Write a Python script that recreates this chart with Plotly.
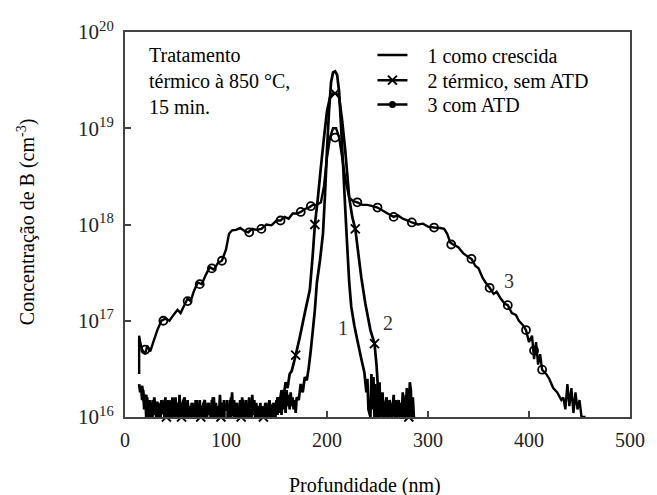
import math
import plotly.graph_objects as go

# ---------------- data ----------------
# Curve 1: como crescida (depth in nm, concentration in cm^-3)
depth_1_left = [14, 15, 16, 17, 18, 19, 20, 21, 22, 23, 24, 25, 26, 27, 28, 29, 30, 31, 32, 33,
                34, 35, 36, 37, 38, 39, 40, 41, 42, 43, 44, 45, 46, 47, 48, 49, 50, 51, 52, 53,
                54, 55, 56, 57, 58, 59, 60, 61, 62, 63, 64, 65, 66, 67, 68, 69, 70, 71, 72, 73,
                74, 75, 76, 77, 78, 79, 80, 81, 82, 83, 84, 85, 86, 87, 88, 89, 90, 91, 92, 93,
                94, 95, 96, 97, 98, 99, 100, 101, 102, 103, 104, 105, 106, 107, 108, 109, 110,
                111, 112, 113, 114, 115, 116, 117, 118, 119, 120, 121, 122, 123, 124, 125, 126,
                127, 128, 129, 130, 131, 132, 133, 134, 135, 136, 137, 138, 139, 140, 141, 142,
                143, 144, 145, 146, 147, 148, 149, 150, 151, 152, 153, 154, 155, 156, 157, 158,
                159, 160, 161, 162, 163, 164, 165, 166, 167, 168, 169, 170]
conc_1_left = [2.2e16, 1.8e16, 2.0e16, 1.5e16, 1.9e16, 1.2e16, 1.7e16, 1.0e16, 1.6e16, 1.0e16,
               1.5e16, 1.0e16, 1.4e16, 1.0e16, 1.5e16, 1.05e16, 1.3e16, 1.0e16, 1.45e16, 1.0e16,
               1.35e16, 1.0e16, 1.5e16, 1.1e16, 1.4e16, 1.0e16, 1.6e16, 1.0e16, 1.3e16, 1.0e16,
               1.4e16, 1.0e16, 1.5e16, 1.0e16, 1.35e16, 1.05e16, 1.6e16, 1.0e16, 1.4e16, 1.0e16,
               1.7e16, 1.0e16, 1.3e16, 1.0e16, 1.45e16, 1.0e16, 1.35e16, 1.05e16, 1.5e16, 1.0e16,
               1.3e16, 1.0e16, 1.4e16, 1.0e16, 1.3e16, 1.0e16, 1.5e16, 1.0e16, 1.35e16, 1.0e16,
               1.5e16, 1.0e16, 1.3e16, 1.0e16, 1.4e16, 1.0e16, 1.25e16, 1.0e16, 1.4e16, 1.05e16,
               1.3e16, 1.0e16, 1.5e16, 1.0e16, 1.6e16, 1.0e16, 1.4e16, 1.0e16, 1.3e16, 1.0e16,
               1.7e16, 1.1e16, 1.4e16, 1.0e16, 1.5e16, 1.0e16, 1.35e16, 1.0e16, 1.3e16, 1.05e16,
               1.5e16, 1.0e16, 1.8e16, 1.05e16, 1.5e16, 1.0e16, 1.4e16, 1.0e16, 1.3e16, 1.0e16,
               1.5e16, 1.0e16, 1.6e16, 1.0e16, 1.4e16, 1.0e16, 1.5e16, 1.0e16, 1.3e16, 1.0e16,
               1.45e16, 1.0e16, 1.7e16, 1.05e16, 1.5e16, 1.0e16, 1.4e16, 1.0e16, 1.3e16, 1.0e16,
               1.4e16, 1.0e16, 1.3e16, 1.0e16, 1.25e16, 1.0e16, 1.4e16, 1.0e16, 1.3e16, 1.0e16,
               1.35e16, 1.0e16, 1.3e16, 1.0e16, 1.4e16, 1.0e16, 1.5e16, 1.05e16, 1.6e16, 1.1e16,
               1.5e16, 1.05e16, 1.7e16, 1.2e16, 1.8e16, 1.1e16, 1.9e16, 1.3e16, 1.7e16, 1.2e16,
               1.8e16, 1.3e16, 1.6e16, 1.2e16, 1.5e16, 1.1e16, 1.6e16]
depth_1_peak = [172, 174, 176, 178, 180, 182, 184, 186, 188, 190, 193, 196, 198, 200, 202, 204,
                206, 208, 210, 212, 214, 216, 218, 220, 222, 224, 227, 230, 234, 237, 239, 240,
                241]
conc_1_peak = [1.5e16, 2.2e16, 1.8e16, 2.6e16, 2.4e16, 3.3e16, 5.0e16, 8.0e16, 1.3e17, 2.5e17,
               4.2e17, 8.0e17, 2.0e18, 6.0e18, 1.5e19, 3.0e19, 3.8e19, 3.9e19, 3.6e19, 2.4e19,
               1.0e19, 4.0e18, 1.5e18, 6.0e17, 2.5e17, 1.4e17, 9.0e16, 6.3e16, 4.0e16, 2.9e16,
               1.8e16, 2.5e16, 1.2e16]
depth_1_right = [243, 244, 245, 246, 247, 248, 249, 250, 251, 252, 254, 256, 258, 260, 262, 264,
                 266, 268, 270, 272, 274, 276, 278, 280, 282]
conc_1_right = [1.0e16, 2.8e16, 1.2e16, 2.6e16, 1.0e16, 2.2e16, 1.0e16, 1.9e16, 1.0e16, 1.5e16,
                1.4e16, 1.0e16, 1.3e16, 1.0e16, 1.4e16, 1.0e16, 1.2e16, 1.0e16, 1.3e16, 1.0e16,
                1.4e16, 1.0e16, 1.7e16, 1.0e16, 1.0e16]

# Curve 2: termico, sem ATD
depth_2_left = [15, 17, 19, 21, 23, 25, 27, 29, 31, 33, 35, 37, 39, 41, 43, 45, 47, 49, 51, 53,
                55, 57, 59, 61, 63, 65, 67, 69, 71, 73, 75, 77, 79, 81, 83, 85, 87, 89, 91, 93,
                95, 97, 99, 101, 103, 105, 107, 109, 111, 113, 115, 117, 119, 121, 123, 125,
                127, 129, 131, 133, 135, 137, 139, 141, 143, 145, 147, 149, 151, 153, 155, 157,
                159, 161, 163, 165, 167, 169]
conc_2_left = [1.9e16, 2.1e16, 1.4e16, 1.7e16, 1.0e16, 1.5e16, 1.0e16, 1.6e16, 1.0e16, 1.4e16,
               1.0e16, 1.5e16, 1.05e16, 1.0e16, 1.5e16, 1.0e16, 1.6e16, 1.0e16, 1.4e16, 1.0e16,
               1.0e16, 1.4e16, 1.6e16, 1.0e16, 1.3e16, 1.0e16, 1.4e16, 1.0e16, 1.5e16, 1.0e16,
               1.0e16, 1.3e16, 1.5e16, 1.0e16, 1.4e16, 1.0e16, 1.6e16, 1.0e16, 1.3e16, 1.05e16,
               1.0e16, 1.4e16, 1.0e16, 1.5e16, 1.0e16, 1.6e16, 1.05e16, 1.0e16, 1.4e16, 1.0e16,
               1.0e16, 1.5e16, 1.05e16, 1.0e16, 1.6e16, 1.0e16, 1.4e16, 1.0e16, 1.3e16, 1.05e16,
               1.0e16, 1.0e16, 1.4e16, 1.0e16, 1.5e16, 1.0e16, 1.4e16, 1.05e16,
               1.6e16, 1.4e16, 1.9e16, 1.6e16, 2.3e16, 2.0e16, 2.8e16, 3.0e16, 3.6e16, 4.4e16]
depth_2_peak = [173, 178, 183, 186, 188, 191, 194, 197, 200, 203, 206, 209, 212, 215, 218, 222,
                225, 228, 231, 234, 238, 243, 247, 249, 250]
conc_2_peak = [6.7e16, 1.2e17, 2.1e17, 5.0e17, 1.0e18, 1.9e18, 4.0e18, 8.0e18, 1.5e19, 2.1e19,
               2.3e19, 2.3e19, 2.1e19, 1.2e19, 6.0e18, 1.9e18, 1.2e18, 9.0e17, 5.0e17, 2.8e17,
               1.5e17, 8.0e16, 5.8e16, 3.5e16, 2.4e16]
depth_2_right = [251, 252, 253, 254, 255, 256, 257, 258, 259, 260, 261, 262, 263, 264, 265, 266,
                 267, 268, 269, 270, 271, 272, 273, 274, 275, 276, 277, 278, 279, 280, 281, 282,
                 283, 284, 285, 286, 287]
conc_2_right = [1.5e16, 2.3e16, 1.0e16, 1.6e16, 1.8e16, 1.0e16, 1.0e16, 1.4e16, 1.6e16, 1.0e16,
                1.0e16, 1.5e16, 1.3e16, 1.0e16, 1.2e16, 1.7e16, 1.0e16, 1.5e16, 1.0e16, 1.3e16,
                1.5e16, 1.0e16, 1.4e16, 1.0e16, 1.8e16, 1.05e16, 1.4e16, 1.0e16, 2.0e16, 1.1e16,
                1.0e16, 2.3e16, 1.9e16, 1.0e16, 1.6e16, 1.0e16, 1.0e16]
# x markers of curve 2
mark_depth_2 = [41, 56, 75, 95, 115, 137, 169, 188, 208, 228, 247, 281]
mark_conc_2 = [1.0e16, 1.0e16, 1.0e16, 1.0e16, 1.0e16, 1.0e16, 4.4e16, 1.0e18, 2.3e19,
               9.0e17, 5.8e16, 1.0e16]

# Curve 3: com ATD
depth_3 = [14, 14, 15, 17, 20, 22, 25, 28, 32, 36, 40, 44, 48, 52, 55, 58, 62, 65, 68, 72,
           76, 80, 84, 88, 92, 96, 100, 103, 106, 110, 114, 118, 122, 126, 130, 135, 140,
           145, 150, 154, 158, 162, 166, 170, 174, 178, 182, 186, 190, 194, 197, 200, 203,
           206, 209, 212, 215, 218, 222, 226, 230, 235, 240, 245, 250, 255, 260, 266, 270,
           275, 280, 284, 290, 295, 300, 306, 312, 316, 319, 322, 325, 330, 335, 340, 343,
           347, 350, 354, 357, 361, 365, 368, 372, 376, 379, 383, 387, 390, 394, 397, 400,
           403, 405, 407, 409, 411, 413, 417, 420, 424, 428, 432, 434, 436, 438, 440, 442,
           444, 446, 448, 450, 452, 454, 456]
conc_3 = [2.8e16, 7.0e16, 6.0e16, 5.0e16, 4.5e16, 5.5e16, 4.8e16, 6.0e16, 8.0e16, 1.0e17,
          1.05e17, 1.0e17, 1.15e17, 1.3e17, 1.2e17, 1.4e17, 1.7e17, 1.6e17, 2.0e17, 2.5e17,
          2.4e17, 3.0e17, 3.6e17, 3.4e17, 4.0e17, 4.2e17, 5.5e17, 8.0e17, 8.7e17, 8.8e17,
          9.2e17, 8.6e17, 8.3e17, 9.0e17, 8.8e17, 9.0e17, 1.0e18, 9.8e17, 1.1e18, 1.1e18,
          1.2e18, 1.15e18, 1.3e18, 1.3e18, 1.35e18, 1.45e18, 1.5e18, 1.6e18, 1.6e18,
          1.7e18, 2.5e18, 5.0e18, 8.0e18, 1.0e19, 1.0e19, 8.0e18, 5.0e18, 3.0e18, 1.9e18,
          1.75e18, 1.7e18, 1.6e18, 1.6e18, 1.55e18, 1.5e18, 1.4e18, 1.3e18, 1.2e18,
          1.25e18, 1.15e18, 1.1e18, 1.05e18, 1.0e18, 1.02e18, 9.5e17, 9.3e17, 9.2e17,
          9.0e17, 8.0e17, 6.5e17, 6.2e17, 5.8e17, 5.0e17, 4.6e17, 4.4e17, 3.7e17, 3.5e17,
          2.8e17, 2.5e17, 2.2e17, 1.9e17, 2.0e17, 1.7e17, 1.5e17, 1.45e17, 1.2e17, 1.15e17,
          1.0e17, 9.0e16, 8.0e16, 6.0e16, 7.0e16, 4.0e16, 6.0e16, 3.5e16, 4.5e16, 3.1e16,
          2.8e16, 2.5e16, 2.0e16, 1.8e16, 1.5e16, 1.6e16, 1.2e16, 2.2e16, 1.3e16, 2.0e16,
          1.1e16, 1.8e16, 1.2e16, 1.5e16, 1.0e16, 1.0e16, 1.0e16]
# circle markers of curve 3
mark_depth_3 = [20, 38, 62, 74, 86, 96, 123, 135, 154, 174, 184, 208, 230, 250, 266, 284,
                306, 323, 343, 361, 379, 397, 405, 413]
mark_conc_3 = [5.0e16, 1.0e17, 1.6e17, 2.4e17, 3.5e17, 4.2e17, 8.3e17, 9.0e17, 1.1e18,
               1.35e18, 1.55e18, 8.0e18, 1.7e18, 1.5e18, 1.2e18, 1.05e18, 9.3e17, 6.2e17,
               4.4e17, 2.2e17, 1.45e17, 8.0e16, 4.9e16, 3.1e16]

legend_names = ["1 como crescida", "2 térmico, sem ATD", "3 com ATD"]
curve_labels = ["1", "2", "3"]
curve_label_depth = [216, 260, 380]
curve_label_conc = [8.5e16, 9.4e16, 2.6e17]

x_ticks = [0, 100, 200, 300, 400, 500]
y_ticks = [1e16, 1e17, 1e18, 1e19, 1e20]
y_tick_text = ["10<sup>16</sup>", "10<sup>17</sup>", "10<sup>18</sup>", "10<sup>19</sup>",
               "10<sup>20</sup>"]

depth_1 = depth_1_left + depth_1_peak + depth_1_right
conc_1 = conc_1_left + conc_1_peak + conc_1_right
depth_2 = depth_2_left + depth_2_peak + depth_2_right
conc_2 = conc_2_left + conc_2_peak + conc_2_right

# ---------------- figure ----------------
FONT = "Liberation Serif, Times New Roman, serif"
LW = 2.4
LW_SIMS = 2.7
PAD = "\u00a0\u00a0\u00a0"

fig = go.Figure()

fig.add_trace(go.Scatter(x=depth_3, y=conc_3, mode="lines",
                         line=dict(color="black", width=LW, simplify=False),
                         showlegend=False))
fig.add_trace(go.Scatter(x=mark_depth_3, y=mark_conc_3, mode="markers",
                         marker=dict(symbol="circle-open", size=8, color="black",
                                     line=dict(width=1.8)),
                         showlegend=False))
fig.add_trace(go.Scatter(x=depth_2, y=conc_2, mode="lines",
                         line=dict(color="black", width=LW_SIMS, simplify=False),
                         showlegend=False))
fig.add_trace(go.Scatter(x=mark_depth_2, y=mark_conc_2, mode="markers", cliponaxis=False,
                         marker=dict(symbol="x-thin-open", size=9, color="black",
                                     line=dict(width=1.8)),
                         showlegend=False))
fig.add_trace(go.Scatter(x=depth_1, y=conc_1, mode="lines",
                         line=dict(color="black", width=LW_SIMS, simplify=False),
                         showlegend=False))

# legend entries (one legend per row for exact placement)
fig.add_trace(go.Scatter(x=[None], y=[None], mode="lines", name=PAD + legend_names[0],
                         legend="legend", line=dict(color="black", width=2.5)))
fig.add_trace(go.Scatter(x=[None], y=[None], mode="lines+markers", name=PAD + legend_names[1],
                         legend="legend2", line=dict(color="black", width=2.5),
                         marker=dict(symbol="x-thin-open", size=9, color="black",
                                     line=dict(width=2))))
fig.add_trace(go.Scatter(x=[None], y=[None], mode="lines+markers", name=PAD + legend_names[2],
                         legend="legend3", line=dict(color="black", width=2.5),
                         marker=dict(symbol="circle", size=7, color="black")))

for t, xd, yc in zip(curve_labels, curve_label_depth, curve_label_conc):
    fig.add_annotation(x=xd, y=math.log10(yc), text=t, showarrow=False, xref="x", yref="y",
                       font=dict(family=FONT, size=20, color="#333"))

fig.add_annotation(x=0.043, y=0.975, xref="paper", yref="paper", xanchor="left",
                   yanchor="top", align="left", showarrow=False,
                   text="Tratamento<br>térmico à 850 °C,<br>15 min.",
                   font=dict(family=FONT, size=20, color="black"))
fig.add_annotation(x=0.476, y=-0.179, xref="paper", yref="paper", xanchor="center",
                   yanchor="middle", showarrow=False, text="Profundidade (nm)",
                   font=dict(family=FONT, size=20, color="black"))
fig.add_annotation(x=-0.196, y=0.506, xref="paper", yref="paper", xanchor="center",
                   yanchor="middle", showarrow=False, textangle=-90,
                   text="Concentração de B (cm<sup>-3</sup>)",
                   font=dict(family=FONT, size=20, color="black"))

leg_common = dict(x=0.49, xanchor="left", yanchor="middle", bgcolor="rgba(0,0,0,0)",
                  itemwidth=30, font=dict(family=FONT, size=20, color="black"))

fig.update_layout(
    width=657, height=495,
    margin=dict(l=125, r=22, t=32, b=78),
    paper_bgcolor="white", plot_bgcolor="white",
    font=dict(family=FONT, size=20, color="black"),
    legend=dict(y=0.940, **leg_common),
    legend2=dict(y=0.875, **leg_common),
    legend3=dict(y=0.812, **leg_common),
    xaxis=dict(range=[0, 500], tickvals=x_ticks, ticks="inside", ticklen=6,
               tickwidth=1.5, tickcolor="#444", showline=True, linecolor="#444",
               linewidth=2, mirror=True, showgrid=False, zeroline=False,
               tickfont=dict(family=FONT, size=20, color="#222"), ticklabelstandoff=4),
    yaxis=dict(type="log", range=[16, 20], tickvals=y_ticks, ticktext=y_tick_text,
               ticks="inside", ticklen=6, tickwidth=1.5, tickcolor="#444",
               showline=True, linecolor="#444", linewidth=2, mirror=True,
               showgrid=False, zeroline=False,
               tickfont=dict(family=FONT, size=21, color="#222"), ticklabelstandoff=5),
)

fig.write_html("out.html", config={"displayModeBar": False},
               post_script="document.body.style.margin='0';")
